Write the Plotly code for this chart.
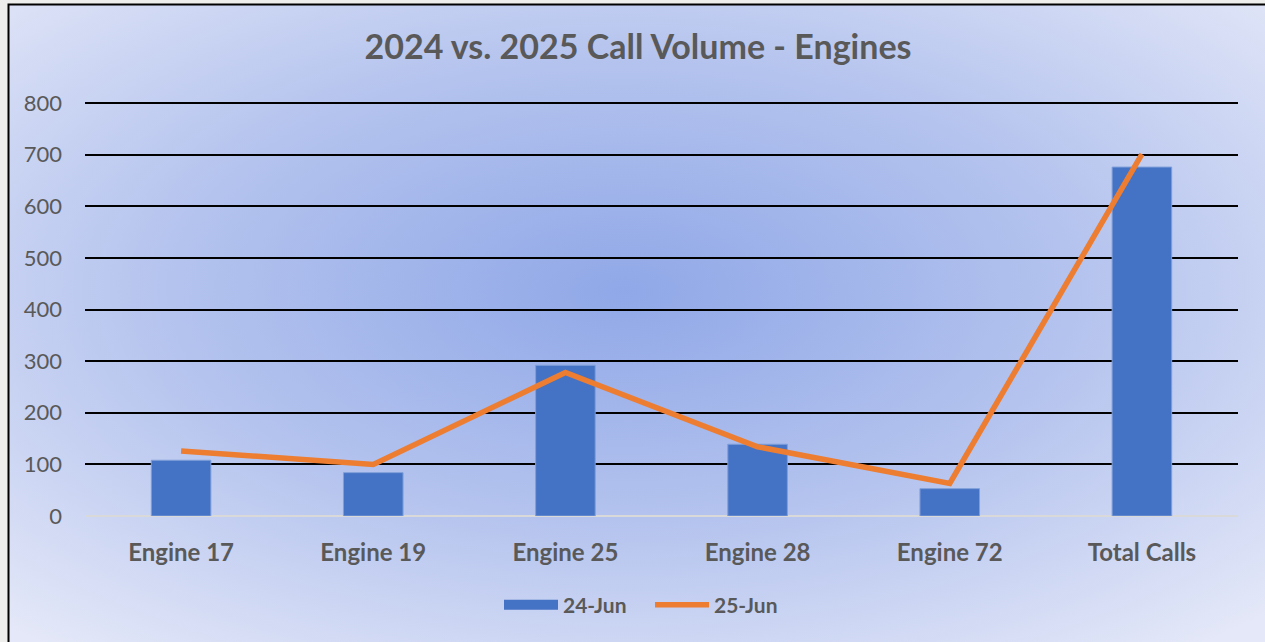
import base64
import plotly.graph_objects as go

categories = ["Engine 17", "Engine 19", "Engine 25", "Engine 28", "Engine 72", "Total Calls"]
jun24 = [108, 84, 292, 139, 53, 676]
jun25 = [126, 100, 278, 134, 63, 701]
y_ticks = [0, 100, 200, 300, 400, 500, 600, 700, 800]

W, H = 1265, 642
L, R, T, B = 85, 27, 101, 126
pw, ph = W - L - R, H - T - B

def px_x(p):
    return (p - L) / pw

def px_y(p):
    return (H - B - p) / ph

svg = (
    '<svg xmlns="http://www.w3.org/2000/svg" width="1257" height="638" viewBox="0 0 100 100" preserveAspectRatio="none">'
    '<defs><radialGradient id="g" cx="0.49" cy="0.45" r="0.72">'
    '<stop offset="0" stop-color="#90a8e8"/>'
    '<stop offset="0.5" stop-color="#b4c3ee"/>'
    '<stop offset="1" stop-color="#e4e8f8"/>'
    '</radialGradient></defs>'
    '<rect x="0" y="0" width="100" height="100" fill="url(#g)"/></svg>'
)
src = "data:image/svg+xml;base64," + base64.b64encode(svg.encode()).decode()

font_fam = "Lato, 'Open Sans', sans-serif"
grey = "#595959"
bar_col = "#4472C4"

fig = go.Figure()
fig.add_trace(go.Bar(
    x=categories, y=jun24, name="24-Jun",
    marker=dict(color=bar_col, line=dict(color="#7f9fd9", width=1)),
    width=0.31, showlegend=False, legendgroup="a",
))
# legend entry for the bar series drawn as a wide block, like the original
fig.add_trace(go.Scatter(
    x=[None], y=[None], name="24-Jun", mode="lines",
    line=dict(color=bar_col, width=13), legendgroup="a",
))
fig.add_trace(go.Scatter(
    x=categories, y=jun25, name="25-Jun", mode="lines",
    line=dict(color="#ED7D31", width=5.5),
))

fig.update_layout(
    width=W, height=H,
    margin=dict(l=L, r=R, t=T, b=B),
    paper_bgcolor="#eeeeec",
    plot_bgcolor="rgba(0,0,0,0)",
    title=dict(
        text="2024 vs. 2025 Call Volume - Engines",
        x=px_x(638), xanchor="center", xref="paper",
        y=1 - 47 / H, yanchor="middle", yref="container",
        font=dict(family=font_fam, size=34, color=grey, weight="bold"),
    ),
    showlegend=True,
    legend=dict(
        orientation="h", x=px_x(650), xanchor="center", y=px_y(605), yanchor="middle",
        font=dict(family=font_fam, size=21, color=grey, weight="bold"),
        bgcolor="rgba(0,0,0,0)", itemwidth=54, tracegroupgap=0, entrywidth=82,
    ),
    xaxis=dict(
        type="category", showgrid=False, showline=False, ticks="",
        tickfont=dict(family=font_fam, size=24, color=grey, weight="bold"),
        ticklabelstandoff=20,
    ),
    yaxis=dict(
        range=[0, 804], tickvals=y_ticks, showgrid=True, gridcolor="#000000", gridwidth=2,
        zeroline=True, zerolinecolor="#d9d9d9", zerolinewidth=2, showline=False,
        tickfont=dict(family=font_fam, size=22, color=grey),
        ticklabelstandoff=22,
    ),
    images=[dict(
        source=src, xref="paper", yref="paper",
        x=px_x(8), y=px_y(4), sizex=(W - 8) / pw, sizey=(H - 4) / ph,
        xanchor="left", yanchor="top", sizing="stretch", layer="below",
    )],
    shapes=[dict(
        type="rect", xref="paper", yref="paper",
        x0=px_x(8.5), x1=px_x(W + 10), y0=px_y(H + 10), y1=px_y(4.5),
        line=dict(color="#000000", width=2), fillcolor="rgba(0,0,0,0)", layer="above",
    )],
)

fig.write_html(
    "out.html",
    config={"displayModeBar": False},
    post_script="document.body.style.margin='0';",
)
